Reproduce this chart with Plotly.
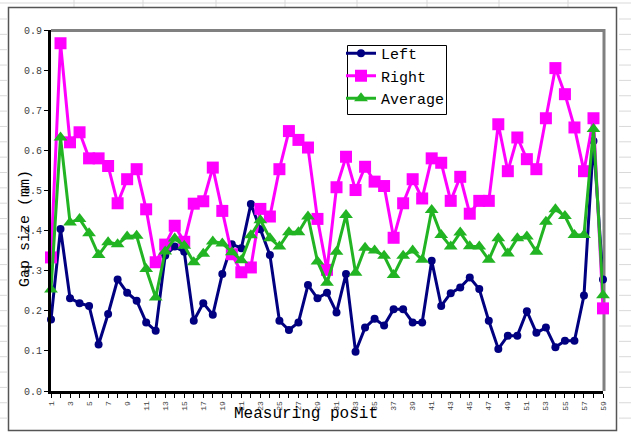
import plotly.graph_objects as go

positions = list(range(1, 60))
tick_labels = [str(i) if i % 2 == 1 else "" for i in positions]

left = [0.178, 0.404, 0.231, 0.219, 0.212, 0.116, 0.192, 0.278, 0.245, 0.225,
        0.171, 0.150, 0.338, 0.360, 0.347, 0.175, 0.219, 0.190, 0.292, 0.366,
        0.356, 0.466, 0.403, 0.339, 0.175, 0.152, 0.171, 0.264, 0.231, 0.245,
        0.196, 0.292, 0.098, 0.158, 0.180, 0.163, 0.204, 0.204, 0.171, 0.171,
        0.325, 0.212, 0.244, 0.258, 0.283, 0.254, 0.175, 0.105, 0.138, 0.138,
        0.199, 0.145, 0.158, 0.109, 0.125, 0.125, 0.238, 0.623, 0.278]

right = [0.333, 0.867, 0.620, 0.645, 0.580, 0.580, 0.561, 0.468, 0.528, 0.553,
         0.453, 0.321, 0.365, 0.412, 0.372, 0.467, 0.473, 0.557, 0.449, 0.341,
         0.296, 0.308, 0.454, 0.435, 0.553, 0.648, 0.626, 0.607, 0.429, 0.302,
         0.508, 0.584, 0.501, 0.559, 0.522, 0.511, 0.382, 0.468, 0.528, 0.480,
         0.580, 0.569, 0.474, 0.534, 0.442, 0.474, 0.474, 0.665, 0.548, 0.632,
         0.578, 0.553, 0.680, 0.805, 0.740, 0.657, 0.548, 0.680, 0.206]

average = [0.253, 0.632, 0.420, 0.429, 0.393, 0.339, 0.371, 0.366, 0.385, 0.387,
           0.304, 0.233, 0.348, 0.380, 0.362, 0.321, 0.342, 0.373, 0.368, 0.346,
           0.326, 0.388, 0.426, 0.381, 0.360, 0.396, 0.396, 0.435, 0.323, 0.270,
           0.347, 0.439, 0.295, 0.357, 0.350, 0.337, 0.289, 0.337, 0.350, 0.327,
           0.451, 0.389, 0.360, 0.395, 0.361, 0.360, 0.327, 0.381, 0.343, 0.381,
           0.385, 0.347, 0.422, 0.453, 0.436, 0.389, 0.389, 0.653, 0.239]

W, H = 631, 432
L, R, T, B = 51, 603, 30, 391
MONO = "Liberation Mono"


def px(x):
    return (x - L) / (R - L)


def py(y):
    return (B - y) / (B - T)


fig = go.Figure()
fig.add_trace(go.Scatter(
    x=positions, y=left, name="Left", mode="lines+markers",
    line=dict(color="#000080", width=3),
    marker=dict(symbol="circle", size=8, color="#000080"),
    cliponaxis=False))
fig.add_trace(go.Scatter(
    x=positions, y=right, name="Right", mode="lines+markers",
    line=dict(color="#FF00FF", width=3),
    marker=dict(symbol="square", size=12, color="#FF00FF"),
    cliponaxis=False))
fig.add_trace(go.Scatter(
    x=positions, y=average, name="Average", mode="lines+markers",
    line=dict(color="#22B422", width=3),
    marker=dict(symbol="triangle-up", size=12, color="#22B422"),
    cliponaxis=False))

shapes = []
grid_col = "#d9d9d9"
# spreadsheet-like background lines
y = 19.0
while y < 430:
    shapes.append(dict(type="line", xref="paper", yref="paper",
                       x0=px(0), x1=px(7), y0=py(y), y1=py(y),
                       line=dict(color=grid_col, width=1), layer="below"))
    shapes.append(dict(type="line", xref="paper", yref="paper",
                       x0=px(619), x1=px(631), y0=py(y), y1=py(y),
                       line=dict(color=grid_col, width=1), layer="below"))
    y += 15.35
for xv in [74, 143, 216, 285, 357, 427, 499, 568]:
    shapes.append(dict(type="line", xref="paper", yref="paper",
                       x0=px(xv), x1=px(xv), y0=py(0), y1=py(7),
                       line=dict(color=grid_col, width=1), layer="below"))
shapes.append(dict(type="line", xref="paper", yref="paper",
                   x0=px(0), x1=px(631), y0=py(3), y1=py(3),
                   line=dict(color=grid_col, width=1), layer="below"))
# outer chart frame
shapes.append(dict(type="rect", xref="paper", yref="paper",
                   x0=px(8.5), x1=px(616.5), y0=py(7.5), y1=py(430.5),
                   line=dict(color="#555555", width=1.5), fillcolor="rgba(0,0,0,0)",
                   layer="below"))
# plot area gray border (top/right)
shapes.append(dict(type="line", xref="paper", yref="paper",
                   x0=0, x1=px(R + 1.5), y0=py(T + 0.5), y1=py(T + 0.5),
                   line=dict(color="#808080", width=3), layer="below"))
shapes.append(dict(type="line", xref="paper", yref="paper",
                   x0=px(R + 1), x1=px(R + 1), y0=0, y1=py(T - 1),
                   line=dict(color="#808080", width=3), layer="below"))
# legend box
shapes.append(dict(type="rect", xref="paper", yref="paper",
                   x0=px(347.5), x1=px(446.5), y0=py(45.5), y1=py(114.5),
                   line=dict(color="#000000", width=1), fillcolor="white",
                   layer="above"))

fig.update_layout(
    width=W, height=H,
    margin=dict(l=L, r=W - R, t=T, b=H - B, pad=0),
    paper_bgcolor="white", plot_bgcolor="white",
    font=dict(family=MONO, color="#000000"),
    showlegend=True,
    legend=dict(x=px(341), y=py(37), xanchor="left", yanchor="top",
                bgcolor="rgba(0,0,0,0)", borderwidth=0,
                font=dict(family=MONO, size=15, color="#000000"),
                tracegroupgap=0, itemwidth=30),
    shapes=shapes,
    annotations=[
        dict(text="Measuring posit", xref="paper", yref="paper",
             x=px(232), y=py(414), xanchor="left", yanchor="middle",
             showarrow=False, font=dict(family=MONO, size=16, color="#000000")),
        dict(text="Gap size (mm)", xref="paper", yref="paper",
             x=px(25), y=py(229), xanchor="center", yanchor="middle",
             textangle=-90, showarrow=False,
             font=dict(family=MONO, size=15, color="#000000")),
    ],
)
fig.update_xaxes(
    range=[1, 59], tickmode="array", tickvals=positions, ticktext=tick_labels,
    tickangle=-90, tickfont=dict(family=MONO, size=8, color="#404040"),
    ticks="outside", ticklen=4, tickwidth=1, tickcolor="#000000",
    showline=True, linecolor="#000000", linewidth=3,
    showgrid=False, zeroline=False)
fig.update_yaxes(
    range=[0, 0.9], tickmode="array",
    tickvals=[0, 0.1, 0.2, 0.3, 0.4, 0.5, 0.6, 0.7, 0.8, 0.9],
    ticktext=["0.0", "0.1", "0.2", "0.3", "0.4", "0.5", "0.6", "0.7", "0.8", "0.9"],
    tickfont=dict(family=MONO, size=10, color="#404040"),
    ticks="outside", ticklen=4, tickwidth=1, tickcolor="#000000",
    showline=True, linecolor="#000000", linewidth=3,
    showgrid=False, zeroline=False)

fig.write_html("out.html", config={"displayModeBar": False},
               post_script="document.body.style.margin='0';document.body.style.padding='0';")
